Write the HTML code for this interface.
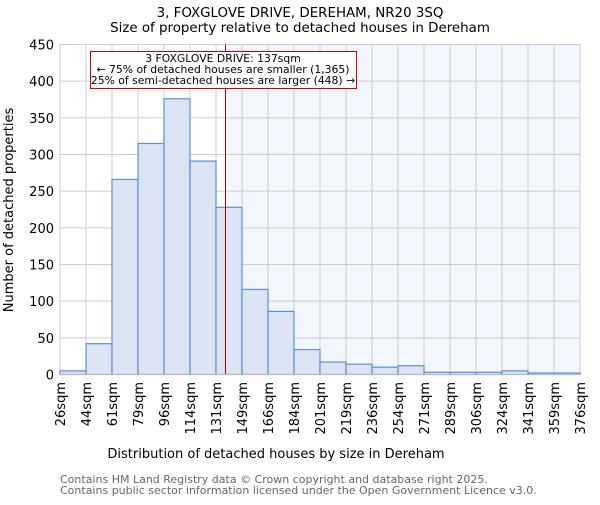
<!DOCTYPE html>
<html><head><meta charset="utf-8"><style>body{margin:0;background:#fff}svg{font-family:"DejaVu Sans","Liberation Sans",sans-serif}</style></head>
<body>
<svg id="c" width="600" height="500" xmlns="http://www.w3.org/2000/svg">
<text x="300" y="17" text-anchor="middle" font-size="13.4">3, FOXGLOVE DRIVE, DEREHAM, NR20 3SQ</text>
<text x="300" y="32" text-anchor="middle" font-size="13.4">Size of property relative to detached houses in Dereham</text>
<g id="plot"></g>
<text x="276" y="458" text-anchor="middle" font-size="13">Distribution of detached houses by size in Dereham</text>
<text transform="translate(13,210) rotate(-90)" text-anchor="middle" font-size="13">Number of detached properties</text>
<text x="60" y="483" font-size="11" fill="#666">Contains HM Land Registry data © Crown copyright and database right 2025.</text>
<text x="60" y="494" font-size="11" fill="#666">Contains public sector information licensed under the Open Government Licence v3.0.</text>
</svg>
<script>
const categories=["26sqm","44sqm","61sqm","79sqm","96sqm","114sqm","131sqm","149sqm","166sqm","184sqm","201sqm","219sqm","236sqm","254sqm","271sqm","289sqm","306sqm","324sqm","341sqm","359sqm","376sqm"];
const counts=[5,42,266,315,376,291,228,116,86,34,17,14,10,12,3,3,3,5,2,2];
const yTicks=[0,50,100,150,200,250,300,350,400,450];
const binStart=26, binEnd=376, markerValue=137;
const NS="http://www.w3.org/2000/svg";
const L=60,R=580,T=44.5,B=374.5;
const xs=v=>L+(v-binStart)/(binEnd-binStart)*(R-L);
const xi=i=>L+i*(R-L)/counts.length;
const y=v=>B-v/450*(B-T);
const g=document.getElementById('plot');
function mk(t,a){const e=document.createElementNS(NS,t);for(const k in a)e.setAttribute(k,a[k]);g.appendChild(e);return e;}
const mx=Math.round(xs(markerValue))+0.5;
let e=mk('rect',{x:mx,y:T,width:R-mx,height:B-T,fill:'#f3f6fd'});


yTicks.forEach(t=>{let l=mk('line',{x1:L,x2:R,y1:y(t),y2:y(t),stroke:'#ccc'});


let tx=mk('text',{x:L-6,y:y(t)+5,'text-anchor':'end','font-size':13});tx.textContent=t;

});
categories.forEach((c,i)=>{let l=mk('line',{x1:xi(i),x2:xi(i),y1:T,y2:B,stroke:'#ccc'});


let tx=mk('text',{transform:`translate(${xi(i)+5},382) rotate(-90)`,'text-anchor':'end','font-size':13});tx.textContent=c;

});
counts.forEach((v,i)=>{let r=mk('rect',{x:xi(i),y:y(v),width:xi(i+1)-xi(i),height:B-y(v),fill:'#dae4f3',stroke:'#5b8fd6','stroke-width':1.2});

});
e=mk('line',{x1:mx,x2:mx,y1:T,y2:B,stroke:'#b00','stroke-width':1});


e=mk('rect',{x:90.5,y:51.5,width:266,height:37,fill:'#fff',stroke:'#c00'});


["3 FOXGLOVE DRIVE: 137sqm","← 75% of detached houses are smaller (1,365)","25% of semi-detached houses are larger (448) →"].forEach((s,i)=>{let t=mk('text',{x:223,y:62+i*11,'text-anchor':'middle','font-size':10.8});t.textContent=s;

});
e=mk('line',{x1:L,x2:R,y1:B,y2:B,stroke:'#bbb'});


</script>
</body></html>
